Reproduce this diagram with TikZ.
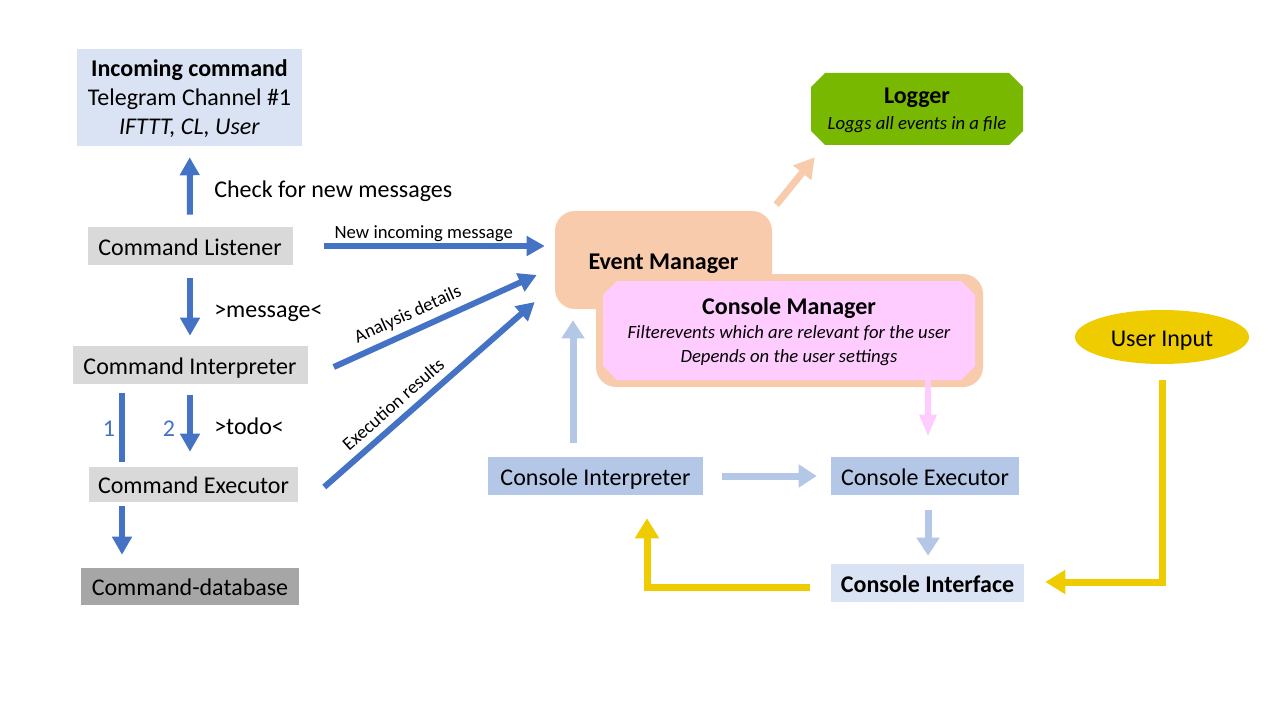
\documentclass[tikz,border=0pt]{standalone}
\usepackage{fontspec}
\setmainfont{Carlito}
\usetikzlibrary{arrows.meta,shapes.geometric,calc}
\definecolor{cmdblue}{HTML}{4472C4}
\definecolor{conblue}{HTML}{B4C7E7}
\definecolor{paleblue}{HTML}{DAE3F3}
\definecolor{cmdgray}{HTML}{D9D9D9}
\definecolor{dbgray}{HTML}{A6A6A6}
\definecolor{peach}{HTML}{F8CBAD}
\definecolor{pinkish}{HTML}{FFCCFF}
\definecolor{loggreen}{HTML}{78B800}
\definecolor{inputyellow}{HTML}{EECC00}
\newcommand\px{0.75pt}
\newcommand\fsize[2]{\fontsize{#1}{#2}\selectfont}
\begin{document}
\begin{tikzpicture}[x=0.75pt,y=-0.75pt]
  \tikzstyle{box}=[inner sep=0pt, font=\fsize{18}{21.75}]
  \tikzstyle{oneline}=[box, text height=18pt, text depth=4.5pt]
  \tikzstyle{cmdbox}=[oneline, fill=cmdgray, minimum height=38*\px]
  \tikzstyle{conbox}=[oneline, fill=conblue, minimum height=38*\px]
  \tikzstyle{chamfer}=[path picture={\fill[#1]
    ($(path picture bounding box.north west)+(14,0)$) -- ($(path picture bounding box.north east)+(-14,0)$) --
    ($(path picture bounding box.north east)+(0,14)$) -- ($(path picture bounding box.south east)+(0,-14)$) --
    ($(path picture bounding box.south east)+(-14,0)$) -- ($(path picture bounding box.south west)+(14,0)$) --
    ($(path picture bounding box.south west)+(0,-14)$) -- ($(path picture bounding box.north west)+(0,14)$) -- cycle;}]
  \tikzstyle{cmdline}=[draw=cmdblue, line width=6*\px]
  \tikzstyle{cmdarrow}=[cmdline, -{Triangle[length=18*\px,width=19*\px]}]
  \tikzstyle{conarrow}=[draw=conblue, line width=7*\px, -{Triangle[length=18*\px,width=22*\px]}]
  \tikzstyle{yelarrow}=[draw=inputyellow, line width=7*\px, -{Triangle[length=20*\px,width=23*\px]}]
  \tikzstyle{lbl}=[font=\fsize{14}{16}]
  \fill[white] (0,0) rectangle (1280,720);
  \useasboundingbox (0,0) rectangle (1280,720);
  \coordinate (left) at (122,0);
  % command side
  \node[box, fill=paleblue, minimum width=225*\px, minimum height=97*\px, align=center, text depth=1pt] (incoming) at (189.5,97.5)
    {\textbf{Incoming command}\\Telegram Channel \#1\\\textit{IFTTT, CL, User}};
  \node[cmdbox, minimum width=205*\px] (listener) at (190,246) {Command Listener};
  \node[cmdbox, minimum width=235*\px] (interp) at (190,365) {Command Interpreter};
  \node[cmdbox, minimum width=209*\px, minimum height=35*\px] (exec) at (193.5,484.5) {Command Executor};
  \node[cmdbox, fill=dbgray, minimum width=218*\px, minimum height=37*\px] (db) at (190,586.5) {Command-database};
  \draw[cmdarrow, shorten <=9pt, shorten >=8.25pt] (listener) -- (incoming);
  \node[oneline, anchor=west] (check) at (214,189) {Check for new messages};
  \draw[cmdarrow, shorten <=9.75pt, shorten >=7.5pt] (listener) -- (interp);
  \node[oneline, anchor=west] (msg) at (214,308) {>message<};
  \draw[cmdline, shorten <=6.75pt, shorten >=3.75pt] (interp.south -| left) -- (exec.north -| left);
  \node[oneline, text=cmdblue] (one) at (109,427) {1};
  \draw[cmdarrow, shorten <=8.25pt, shorten >=11.25pt] (interp.south) -- (interp.south |- exec.north);
  \node[oneline, text=cmdblue] (two) at (169,427) {2};
  \node[oneline, anchor=west] (todo) at (214,425) {>todo<};
  \draw[cmdarrow, shorten <=3pt, shorten >=9.75pt] (exec.south -| left) -- (db.north -| left);
  % managers
  \node[oneline, fill=peach, rounded corners=20*\px, minimum width=217*\px, minimum height=98*\px] (event) at (663.5,260)
    {\textbf{Event Manager}};
  \node[box, fill=peach, rounded corners=20*\px, minimum width=387*\px, minimum height=113*\px] (cmout) at (789.5,330.5) {};
  \node[box, fill=peach, chamfer=pinkish, minimum width=372*\px, minimum height=99*\px, align=center, text depth=-5pt,
    font=\fsize{14}{18}\itshape] (cm) at (789,330.5)
    {{\fsize{18}{18}\upshape\bfseries Console Manager}\\Filterevents which are relevant for the user\\Depends on the user settings};
  \node[box, fill=white, chamfer=loggreen, minimum width=212*\px, minimum height=72*\px, align=center, text depth=-5pt,
    font=\fsize{14}{19.5}\itshape] (logger) at (917,109)
    {{\fsize{18}{18}\upshape\bfseries Logger}\\Loggs all events in a file};
  \draw[cmdarrow, shorten <=23.25pt, shorten >=7.5pt] (listener.east) -- (listener.east -| event.west)
    node[lbl, pos=0.5, above=-2pt] (newmsg) {New incoming message};
  \draw[cmdarrow] ($(interp.east)+(26,2)$) -- ($(event.west)+(-18,15)$)
    node[lbl, pos=0.4, sloped, above=1pt] (analysis) {Analysis details};
  \draw[cmdarrow] ($(exec.east)+(26,2.5)$) -- ($(event.west)+(-20,42)$)
    node[lbl, pos=0.38, sloped, above=2pt] (results) {Execution results};
  \draw[draw=peach, line width=7*\px, -{Triangle[length=20*\px,width=22*\px]}] ($(event.north east)+(4,-6)$) -- ($(logger.south west)+(4,12)$);
  % console side
  \node[conbox, minimum width=215*\px] (cinterp) at (595.5,476) {Console Interpreter};
  \node[conbox, minimum width=188*\px] (cexec) at (925,476) {Console Executor};
  \node[conbox, fill=paleblue, minimum width=193*\px] (cface) at (927.5,583) {\textbf{Console Interface}};
  \node[oneline, ellipse, fill=inputyellow, minimum width=174*\px, minimum height=54*\px] (user) at (1162,337) {User Input};
  \draw[conarrow] ($(cinterp.north)+(-22.5,-14)$) -- ($(cinterp.north |- event.south)+(-22.5,11)$);
  \draw[conarrow, shorten <=14.25pt, shorten >=10.5pt] (cinterp) -- (cexec);
  \draw[draw=pinkish, line width=6*\px, -{Triangle[length=22*\px,width=16*\px]}] ($(cm.south -| cexec.north)+(3,0)$) -- ($(cexec.north)+(3,-20)$);
  \draw[conarrow] ($(cexec.south)+(3,15)$) -- ($(cface.north)+(0.5,-8)$);
  \draw[yelarrow] ($(cface.west)+(-21,4)$) -| ($(cinterp.south)+(51.5,23)$);
  \draw[yelarrow] ($(user.south)+(0,16)$) |- ($(cface.east)+(21,-1)$);
\end{tikzpicture}
\end{document}
